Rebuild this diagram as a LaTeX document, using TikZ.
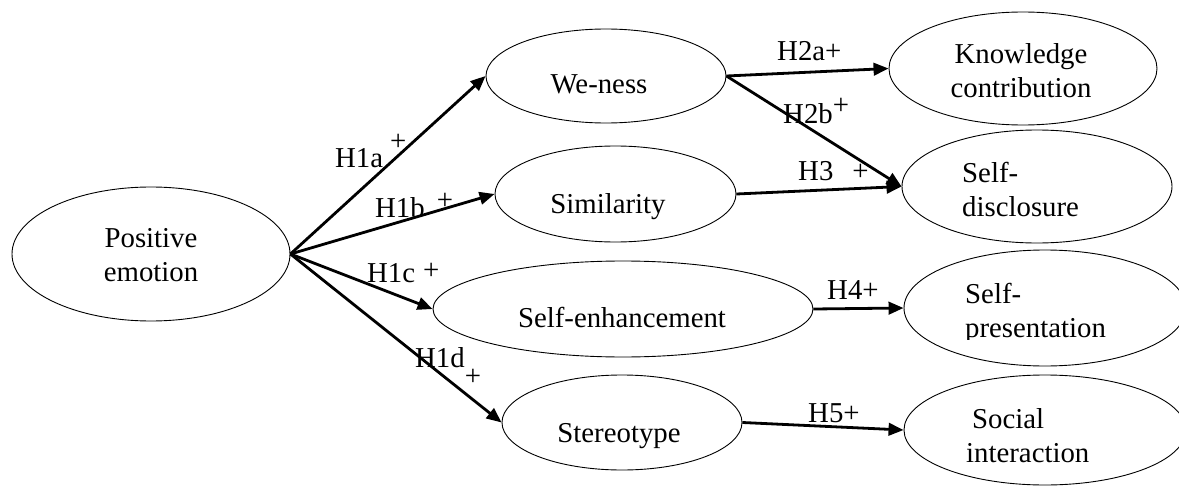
\documentclass[tikz,border=0pt]{standalone}
\usepackage{fontspec}
\setmainfont{Liberation Serif}
\usetikzlibrary{shapes.geometric,arrows.meta}
\begin{document}
\begin{tikzpicture}[x=1pt,y=-1pt,
  oval/.style={ellipse,draw,line width=0.9pt,inner sep=0pt},
  txt/.style={inner sep=0pt,font=\fontsize{28.8}{34}\selectfont},
  lbl/.style={inner sep=0pt,anchor=base west,font=\fontsize{28.8}{34}\selectfont},
  arr/.style={line width=2.8pt,-{Triangle[length=15pt,width=12.5pt]}}]
\clip (0,0) rectangle (1179,487);
% ellipses
\node[oval,minimum width=278,minimum height=134] (pe) at (151,254) {};
\node[oval,minimum width=240,minimum height=94] (we) at (606,76) {};
\node[oval,minimum width=241,minimum height=96] (sim) at (615.5,194) {};
\node[oval,minimum width=380,minimum height=96] (se) at (623,309) {};
\node[oval,minimum width=240,minimum height=95] (st) at (622,422.5) {};
\node[oval,minimum width=268,minimum height=113] (kc) at (1023,68.5) {};
\node[oval,minimum width=270,minimum height=113] (sd) at (1037,186.5) {};
\node[oval,minimum width=282,minimum height=116] (sp) at (1045,308) {};
\node[oval,minimum width=282,minimum height=110] (si) at (1045,430) {};
% texts
\node[txt,align=center] (tpe) at (151,255) {Positive\\emotion};
\node[txt,anchor=base] (twe) at (599,94) {We-ness};
\node[txt,anchor=base] (tsim) at (608,213) {Similarity};
\node[txt,anchor=base] (tse) at (622,327) {Self-enhancement};
\node[txt,anchor=base] (tst) at (619,442) {Stereotype};
\node[txt,align=center] (tkc) at (1021,70.5) {Knowledge\\contribution};
\node[txt,align=left,anchor=west] (tsd) at (962,190) {Self-\\disclosure};
\begin{scope}
\clip (880,240) rectangle (1179,339);
\node[txt,align=left,anchor=west] (tsp) at (965,313) {Self-\\presentation};
\end{scope}
\node[txt,align=left,anchor=west] (tsi) at (966,435.5) {\hspace*{6pt}Social\\interaction};
% arrows
\draw[arr] (pe.east) -- (we.west);
\draw[arr] (pe.east) -- (sim.west);
\draw[arr] (pe.east) -- (se.west);
\draw[arr] (pe.east) -- (st.west);
\draw[arr] (we.east) -- (kc.west);
\draw[arr] (we.east) -- (sd.west);
\draw[arr] (sim.east) -- (sd.west);
\draw[arr] (se.east) -- (sp.west);
\draw[arr] (st.east) -- (si.west);
% labels
\node[lbl] (l1a) at (335,167) {H1a\hspace{7pt}\raisebox{17pt}{+}};
\node[lbl] (l1b) at (375,217) {H1b\hspace{12pt}\raisebox{8pt}{+}};
\node[lbl] (l1c) at (367,282) {H1c\hspace{8pt}\raisebox{3pt}{+}};
\node[lbl] (l1d) at (415,367) {H1d\raisebox{-18pt}{+}};
\node[lbl] (l2a) at (777,61) {H2a+};
\node[lbl] (l2b) at (783,123) {H2b\raisebox{9pt}{+}};
\node[lbl] (l3) at (798,180) {H3\hspace{19pt}+};
\node[lbl] (l4) at (827,299) {H4+};
\node[lbl] (l5) at (808,422) {H5+};
\end{tikzpicture}
\end{document}
